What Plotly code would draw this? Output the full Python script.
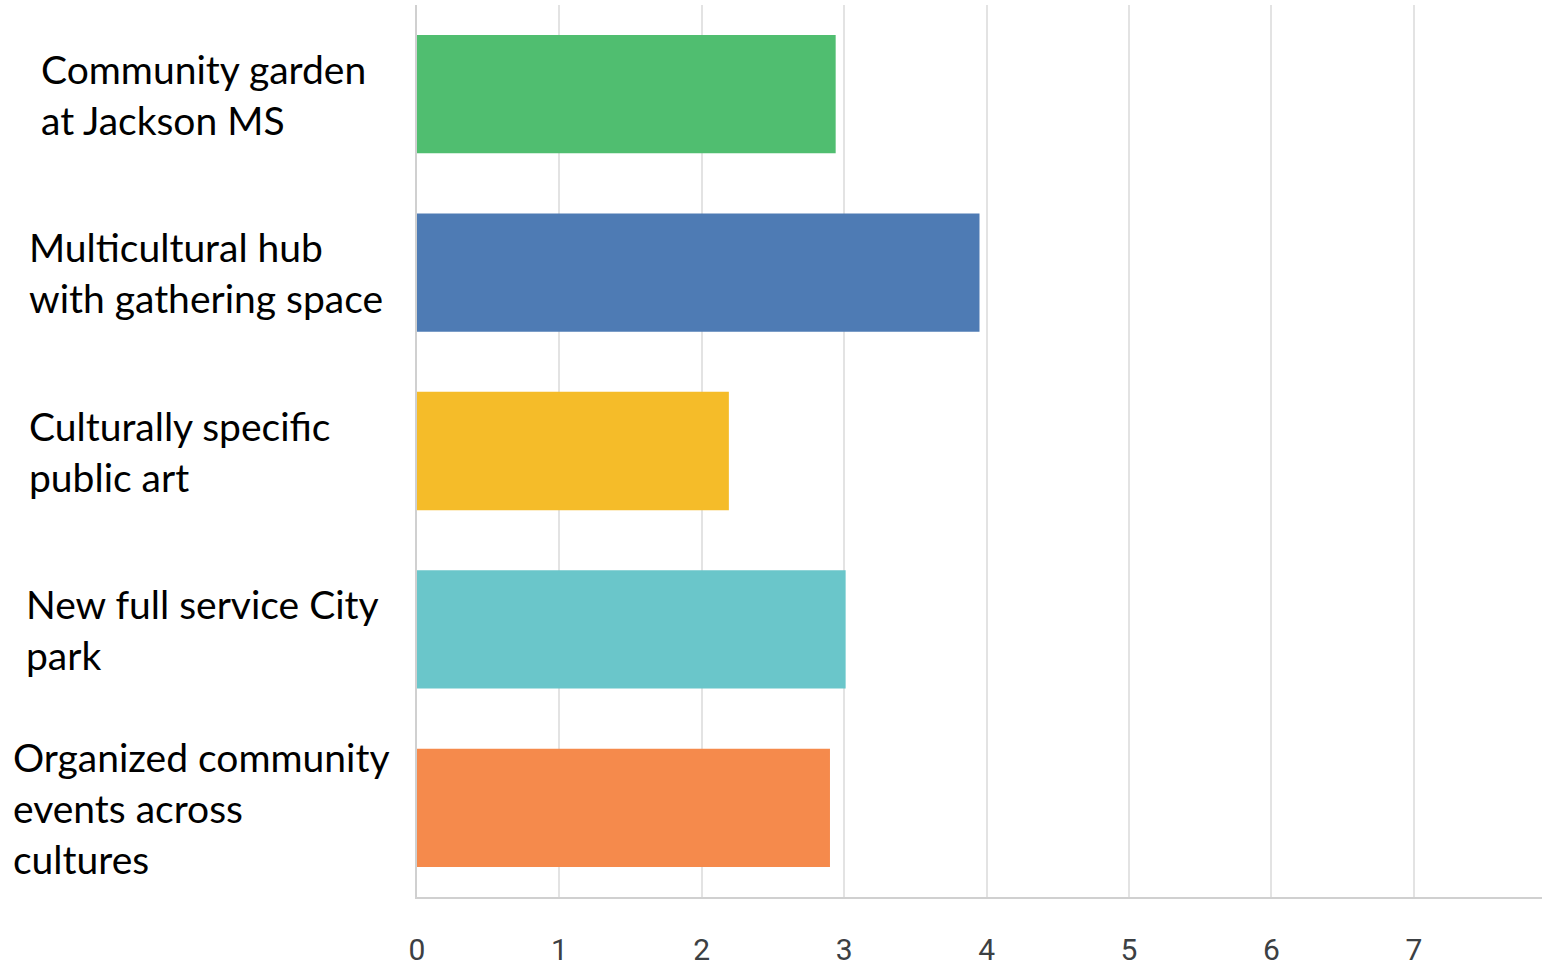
import plotly.graph_objects as go

categories = [
    "Community garden\nat Jackson MS",
    "Multicultural hub\nwith gathering space",
    "Culturally specific\npublic art",
    "New full service City\npark",
    "Organized community\nevents across\ncultures",
]
values = [2.94, 3.95, 2.19, 3.01, 2.90]
colors = ["#50BE70", "#4E7BB4", "#F5BC29", "#6AC6CA", "#F58A4C"]
label_x = [39, 27, 27, 24, 11]  # left pixel of each label block
tick_vals = [0, 1, 2, 3, 4, 5, 6, 7]

W, H = 1542, 970
fig = go.Figure(go.Bar(
    y=list(range(len(categories))),
    x=values,
    orientation="h",
    marker=dict(color=colors, line=dict(width=0)),
    width=0.663,
))

L, R, T, B = 417, 0, 5, 73
fig.update_layout(
    width=W, height=H,
    margin=dict(l=L, r=R, t=T, b=B, autoexpand=False),
    paper_bgcolor="white", plot_bgcolor="white",
    showlegend=False,
)
fig.update_xaxes(
    range=[0, 7.9], tickvals=tick_vals, showgrid=True, gridcolor="#E3E3E3", gridwidth=2,
    zeroline=False, showline=True, linecolor="#D0D0D0", linewidth=2,
    tickfont=dict(family="Roboto", size=30, color="#3C4043"),
    ticks="", ticklabelstandoff=25, automargin=False,
)
fig.update_yaxes(
    range=[4.5, -0.5], showticklabels=False, showgrid=False, zeroline=False,
    showline=True, linecolor="#D0D0D0", linewidth=2, automargin=False,
)

line_h = 51
for i, (cat, lx) in enumerate(zip(categories, label_x)):
    lines = cat.split("\n")
    n = len(lines)
    for j, ln in enumerate(lines):
        fig.add_annotation(
            text=ln, xref="paper", yref="y",
            x=(lx - L) / (W - L - R), y=i,
            xanchor="left", yanchor="middle",
            yshift=-(j - (n - 1) / 2) * line_h,
            showarrow=False,
            font=dict(family="Lato", size=39, color="black"),
        )

fig.write_html(
    "out.html",
    config={"displayModeBar": False},
    post_script="document.body.style.margin='0';document.body.style.overflow='hidden';",
)
